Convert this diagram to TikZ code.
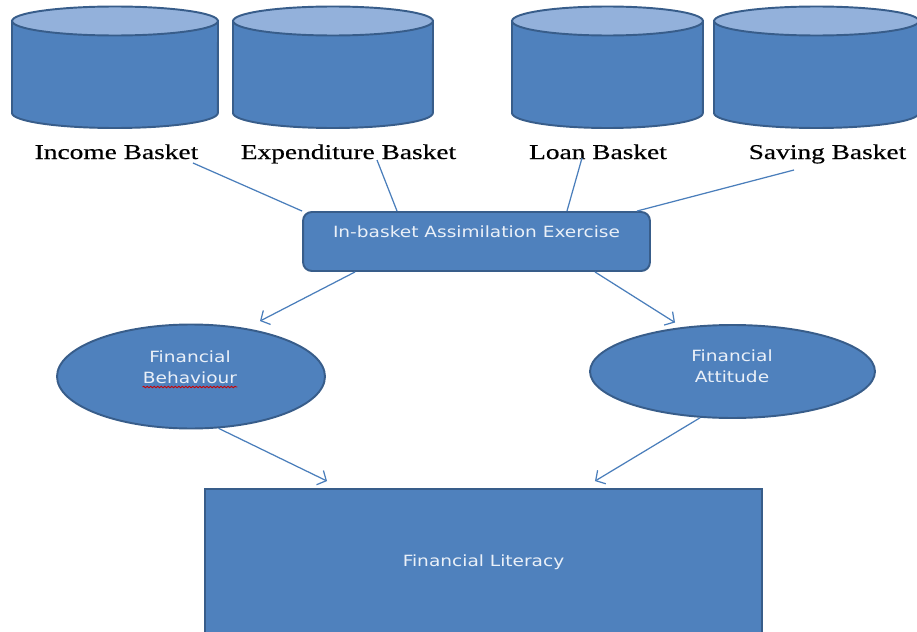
\documentclass[tikz,border=0pt]{standalone}
\usepackage{fontspec}
\setmainfont{Liberation Serif}
\newfontfamily\basketfont[FakeStretch=1.3,FakeBold=0.5]{Liberation Serif}
\newfontfamily\shapefont[FakeStretch=1.2]{DejaVu Sans}
\usetikzlibrary{shapes.geometric,arrows.meta,decorations.pathmorphing}

\definecolor{officeblue}{HTML}{4F81BD}
\definecolor{officeedge}{HTML}{385D8A}
\definecolor{officelight}{HTML}{93B1DB}
\definecolor{linkblue}{HTML}{4A7EBB}
\definecolor{paletext}{HTML}{EAF0F8}

\tikzset{
  basketlabel/.style={inner sep=0pt, anchor=base, font=\basketfont\fontsize{12}{14}\selectfont},
  bluebox/.style={draw=officeedge, fill=officeblue, line width=1.1pt, text=paletext,
                  font=\shapefont\fontsize{8.8}{12}\selectfont},
  ovaltext/.style={inner sep=0pt, align=center, text=paletext, font=\shapefont\fontsize{8.8}{12}\selectfont},
  link/.style={draw=linkblue, line width=0.7pt},
  arrow/.style={link, -{Straight Barb[length=4pt,width=9pt]}},
}

\begin{document}
\begin{tikzpicture}[x=0.02cm, y=-0.02cm]

    \useasboundingbox (0,0) rectangle (917,632);
    \clip (0,0) rectangle (917,632);
    \fill[white] (0,0) rectangle (917,632);

    % BASKETS
    \foreach \l/\r in {12/218, 233/433, 512/703, 714/919} {
        \pgfmathsetmacro\rx{(\r-\l)*0.01}
        \filldraw[officeedge, fill=officeblue, line width=1.1pt]
            (\l,21) -- (\l,113) arc (180:360:\rx cm and 0.3cm) -- (\r,21) -- cycle;
        \filldraw[officeedge, fill=officelight, line width=1.1pt]
            ({(\l+\r)/2},21) ellipse (\rx cm and 0.29cm);
    }

    % BASKET NAMES
    \node[basketlabel] (income) at (116.5,159) {Income Basket};
    \node[basketlabel] (expenditure) at (348.5,159) {Expenditure Basket};
    \node[basketlabel] (loan) at (598,159) {Loan Basket};
    \node[basketlabel] (saving) at (827.5,159) {Saving Basket};

    % EXERCISE
    \node[bluebox, rounded corners=5pt, minimum width=6.94cm, minimum height=1.18cm,
          text height=6.4pt, text depth=10.8pt] (exercise) at (476.5,241.5)
          {In-basket Assimilation Exercise};

    % BEHAVIOUR AND ATTITUDE
    \node[bluebox, ellipse, minimum width=5.36cm, minimum height=2.08cm] (behaviour) at (191,376.5) {};
    \node[ovaltext] (behaviourtext) at (190,367.5) {Financial\\Behaviour};
    \draw[red!80!black, line width=0.5pt, decorate, decoration={snake, amplitude=0.4pt, segment length=2pt}]
        ([yshift=-1.5pt]behaviourtext.south west) -- ([yshift=-1.5pt]behaviourtext.south east);

    \node[bluebox, ellipse, minimum width=5.7cm, minimum height=1.86cm] (attitude) at (732.5,371.5) {};
    \node[ovaltext] (attitudetext) at (732,366.5) {Financial\\Attitude};

    % LITERACY
    \node[bluebox, minimum width=11.14cm, minimum height=4cm,
          text height=6.4pt, text depth=31.8pt] (literacy) at (483.5,589) {Financial Literacy};

    % BASKETS INTO EXERCISE
    \draw[link] ([xshift=1.53cm,yshift=-0.08cm]income.base) -- (exercise.north west);
    \draw[link] ([xshift=0.57cm,yshift=-0.02cm]expenditure.base) -- ([xshift=-1.59cm]exercise.north);
    \draw[link] ([xshift=-0.32cm,yshift=0.02cm]loan.base) -- ([xshift=1.81cm]exercise.north);
    \draw[link] ([xshift=-0.67cm,yshift=-0.22cm]saving.base) -- ([xshift=3.21cm]exercise.north);

    % EXERCISE INTO BEHAVIOUR AND ATTITUDE
    \draw[arrow] ([xshift=-2.43cm]exercise.south) -- ([xshift=1.38cm,yshift=0.05cm]behaviour.north);
    \draw[arrow] ([xshift=2.37cm]exercise.south) -- ([xshift=-1.15cm,yshift=0.03cm]attitude.north);

    % INTO LITERACY
    \draw[arrow] (behaviour.-62) -- ([xshift=-3.13cm,yshift=0.14cm]literacy.north);
    \draw[arrow] (attitude.-125) -- ([xshift=2.23cm,yshift=0.14cm]literacy.north);

\end{tikzpicture}
\end{document}
